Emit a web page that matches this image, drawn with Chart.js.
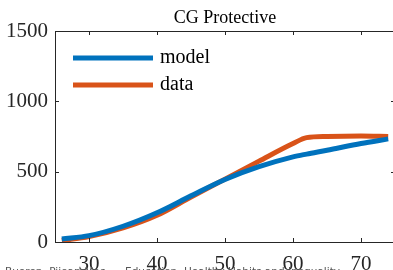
<!DOCTYPE html>
<html>
<head>
<meta charset="utf-8">
<script src="https://cdn.jsdelivr.net/npm/chart.js@4"></script>
<style>
    html, body { margin: 0; padding: 0; overflow: hidden; background: #fff; }
    #wrap { width: 397px; height: 270px; }
</style>
</head>
<body>
<div id="wrap"><canvas id="chart" width="397" height="270"></canvas></div>
<script>
const ages = [26, 30, 35, 40, 45, 50, 55, 60, 62, 65, 70, 74];
const modelValues = [22, 45, 112, 208, 328, 444, 535, 605, 625, 652, 700, 733];
const dataValues = [10, 38, 100, 190, 320, 447, 575, 700, 742, 750, 753, 750];
const xTicks = [30, 40, 50, 60, 70];
const yTicks = [0, 500, 1000, 1500];
const seriesNames = ["model", "data"];
const seriesColors = ["#0072BD", "#D95319"];
const titleText = "CG Protective";

const AXIS_COLOR = "#262626";
const SERIF = '"Liberation Serif", "Times New Roman", serif';

// box + inward ticks, like the matlab figure
const framePlugin = {
    id: "frame",
    afterDatasetsDraw(chart) {
        const { ctx, chartArea: a, scales } = chart;
        const len = 4;
        ctx.save();
        ctx.strokeStyle = AXIS_COLOR;
        ctx.lineWidth = 1;
        ctx.beginPath();
        ctx.moveTo(a.left, a.top + 0.5);
        ctx.lineTo(a.right, a.top + 0.5);
        ctx.moveTo(a.right - 0.5, a.top);
        ctx.lineTo(a.right - 0.5, a.bottom);
        xTicks.forEach(v => {
            const x = Math.round(scales.x.getPixelForValue(v)) + 0.5;
            ctx.moveTo(x, a.bottom);
            ctx.lineTo(x, a.bottom - len);
            ctx.moveTo(x, a.top);
            ctx.lineTo(x, a.top + len);
        });
        yTicks.forEach(v => {
            const y = Math.round(scales.y.getPixelForValue(v)) + 0.5;
            ctx.moveTo(a.left, y);
            ctx.lineTo(a.left + len, y);
            ctx.moveTo(a.right, y);
            ctx.lineTo(a.right - len, y);
        });
        ctx.stroke();
        ctx.restore();
    },
    afterDraw(chart) {
        const { ctx, chartArea: a } = chart;
        ctx.save();
        // title centred over the axes box
        ctx.fillStyle = "#000";
        ctx.font = "18px " + SERIF;
        ctx.textAlign = "center";
        ctx.textBaseline = "middle";
        ctx.fillText(titleText, (a.left + a.right) / 2, 18);
        // legend inside the axes
        ctx.textAlign = "left";
        const rows = [58, 85];
        rows.forEach((y, i) => {
            ctx.strokeStyle = seriesColors[i];
            ctx.lineWidth = 5;
            ctx.beginPath();
            ctx.moveTo(73, y);
            ctx.lineTo(153, y);
            ctx.stroke();
            ctx.fillStyle = "#000";
            ctx.font = "20px " + SERIF;
            ctx.textBaseline = "middle";
            ctx.fillText(seriesNames[i], 160, y);
        });
        // footer of the slide, cut off at the bottom
        ctx.fillStyle = "#555";
        ctx.font = '10.5px "DejaVu Sans", sans-serif';
        ctx.textBaseline = "alphabetic";
        ctx.fillText("Bueren, Pijoan-Mas", 5, 275);
        ctx.fillText("Education, Healthy Habits and Inequality", 125, 275);
        ctx.restore();
    }
};

function toPoints(values) {
    return ages.map((a, i) => ({ x: a, y: values[i] }));
}

const config = {
    type: "line",
    data: {
        datasets: [
            {
                label: seriesNames[0],
                data: toPoints(modelValues),
                borderColor: seriesColors[0],
                borderWidth: 5,
                pointRadius: 0,
                cubicInterpolationMode: "monotone",
                fill: false,
            },
            {
                label: seriesNames[1],
                data: toPoints(dataValues),
                borderColor: seriesColors[1],
                borderWidth: 5,
                pointRadius: 0,
                cubicInterpolationMode: "monotone",
                fill: false,
            },
        ],
    },
    options: {
        animation: false,
        responsive: false,
        devicePixelRatio: 1,
        layout: { padding: { left: 0, right: 2, top: 31, bottom: 0 } },
        scales: {
            x: {
                type: "linear",
                min: 25,
                max: 75,
                afterBuildTicks: s => { s.ticks = xTicks.map(v => ({ value: v })); },
                afterFit: s => { s.height = 28; },
                grid: { display: false, drawTicks: false },
                border: { display: true, color: AXIS_COLOR, width: 1 },
                ticks: {
                    color: AXIS_COLOR,
                    font: { family: SERIF, size: 21 },
                    padding: 10,
                    maxRotation: 0,
                    callback: v => String(v),
                },
            },
            y: {
                min: 0,
                max: 1500,
                afterBuildTicks: s => { s.ticks = yTicks.map(v => ({ value: v })); },
                afterFit: s => { s.width = 55; },
                grid: { display: false, drawTicks: false },
                border: { display: true, color: AXIS_COLOR, width: 1 },
                ticks: {
                    color: AXIS_COLOR,
                    font: { family: SERIF, size: 21 },
                    padding: 7,
                    callback: v => String(v),
                },
            },
        },
        plugins: {
            legend: { display: false },
            tooltip: { enabled: false },
            title: { display: false },
        },
    },
    plugins: [framePlugin],
};

new Chart(document.getElementById("chart").getContext("2d"), config);
</script>
</body>
</html>
